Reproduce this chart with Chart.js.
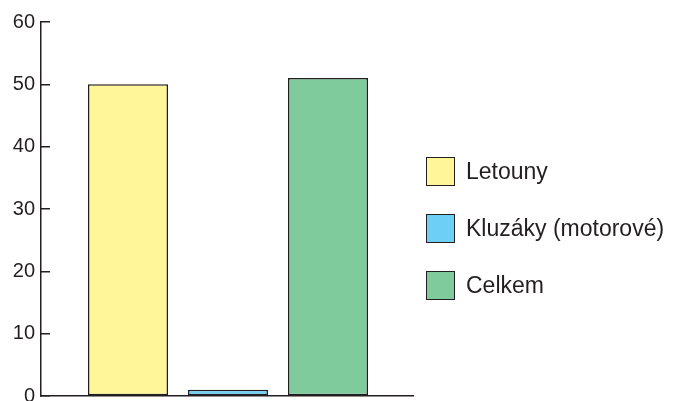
<!DOCTYPE html>
<html>
<head>
<meta charset="utf-8">
<script src="https://cdn.jsdelivr.net/npm/chart.js@4.4.1/dist/chart.umd.min.js"></script>
<style>
  html, body { margin: 0; padding: 0; background: #fff; overflow: hidden; }
  #wrap { position: relative; width: 678px; height: 407px; }
  #legend { position: absolute; left: 426px; top: 156px; font: 23px "Liberation Sans", Arial, sans-serif; color: #231f20; }
  #legend .item { display: flex; align-items: center; height: 30px; margin-bottom: 27px; white-space: nowrap; }
  #legend .box { width: 27px; height: 27px; border: 1.5px solid #231f20; margin-right: 11px; flex: none; }
</style>
</head>
<body>
<div id="wrap">
  <canvas id="chart"></canvas>
  <div id="legend"></div>
</div>
<script>
// categories and values
const categories = ["Letouny", "Kluzáky (motorové)", "Celkem"];
const values = [50, 1, 51];
const barColors = ["#fff599", "#6dcff6", "#80cb9b"];
const yTicks = [0, 10, 20, 30, 40, 50, 60];

const INK = "#231f20";
const FONT = { family: "'Liberation Sans', Arial, sans-serif", size: 20 };

const positions = categories.map((c, i) => i + 1);
const points = values.map((v, i) => ({ x: positions[i], y: v }));

const chart = new Chart(document.getElementById("chart"), {
  type: "bar",
  data: {
    datasets: [
      {
        label: "Počet",
        data: points,
        backgroundColor: barColors,
        borderColor: INK,
        borderWidth: 1.5,
        borderSkipped: false,
        categoryPercentage: 0.8,
        barPercentage: 1,
      },
    ],
  },
  options: {
    responsive: true,
    maintainAspectRatio: false,
    animation: false,
    layout: { padding: { left: 13, right: 265, top: 22, bottom: 11 } },
    plugins: {
      legend: { display: false },
      tooltip: { enabled: false },
    },
    scales: {
      x: {
        type: "linear",
        offset: false,
        min: 0.13,
        max: 3.85,
        afterBuildTicks(scale) {
          scale.ticks = positions.map((v) => ({ value: v }));
        },
        afterFit(scale) {
          scale.height = 0;
          scale.paddingLeft = 0;
          scale.paddingRight = 0;
        },
        ticks: { display: false },
        grid: { display: false, drawTicks: false, offset: false },
        border: { display: true, color: INK, width: 1.5 },
      },
      y: {
        min: 0,
        max: 60,
        afterBuildTicks(scale) {
          scale.ticks = yTicks.map((v) => ({ value: v }));
        },
        afterFit(scale) {
          scale.width = 28;
          scale.paddingTop = 0;
          scale.paddingBottom = 0;
        },
        ticks: { color: INK, font: FONT, padding: 15 },
        grid: {
          drawOnChartArea: false,
          drawTicks: true,
          tickLength: -9,
          color: INK,
          lineWidth: 1.5,
        },
        border: { display: true, color: INK, width: 1.5 },
      },
    },
  },
});

// legend built from the same arrays
const legendEl = document.getElementById("legend");
categories.forEach((name, i) => {
  const item = document.createElement("div");
  item.className = "item";
  const box = document.createElement("span");
  box.className = "box";
  box.style.background = barColors[i];
  const txt = document.createElement("span");
  txt.textContent = name;
  item.appendChild(box);
  item.appendChild(txt);
  legendEl.appendChild(item);
});
</script>
</body>
</html>
